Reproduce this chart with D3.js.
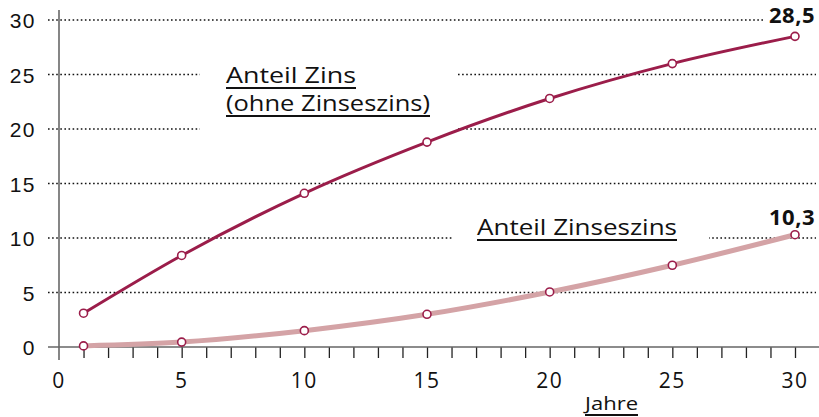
<!DOCTYPE html>
<html>
<head>
<meta charset="utf-8">
<script src="https://cdn.jsdelivr.net/npm/d3@7"></script>
<style>
  body { margin: 0; background: #fff; }
  svg { display: block; font-family: "Open Sans", sans-serif; }
</style>
</head>
<body>
<div id="chart"></div>
<script>
// years shown with markers
var years = [1, 5, 10, 15, 20, 25, 30];
// share of simple interest (Anteil Zins)
var zinsValues = [3.1, 8.4, 14.1, 18.8, 22.8, 26.0, 28.5];
// share of compound interest (Anteil Zinseszins)
var zinseszinsValues = [0.1, 0.45, 1.5, 3.0, 5.05, 7.5, 10.3];
var yTicks = [0, 5, 10, 15, 20, 25, 30];
var xTicks = [0, 5, 10, 15, 20, 25, 30];

var width = 819, height = 417;

var svg = d3.select("#chart")
    .append("svg")
    .attr("width", width)
    .attr("height", height);

var x = d3.scaleLinear().domain([0, 30]).range([59, 795]);
var y = d3.scaleLinear().domain([0, 30]).range([347, 20]);

// dotted gridlines
svg.append("g")
    .selectAll("line")
    .data(yTicks.filter(function (d) { return d > 0; }))
    .enter()
    .append("line")
    .attr("x1", 48)
    .attr("x2", 816)
    .attr("y1", function (d) { return y(d); })
    .attr("y2", function (d) { return y(d); })
    .attr("stroke", "#111")
    .attr("stroke-width", 1.6)
    .attr("stroke-dasharray", "1.6 2.5");

// white boxes behind the labels, they cut the gridlines
svg.append("rect").attr("x", 200).attr("y", 52).attr("width", 257).attr("height", 88).attr("fill", "#fff");
svg.append("rect").attr("x", 453).attr("y", 212).attr("width", 256).attr("height", 36).attr("fill", "#fff");
svg.append("rect").attr("x", 764).attr("y", 8).attr("width", 55).attr("height", 22).attr("fill", "#fff");

// y axis
var yAxis = svg.append("g")
    .attr("transform", "translate(59,0)")
    .call(d3.axisLeft(y).tickValues(yTicks).tickSize(0).tickPadding(23));
yAxis.select(".domain").remove();
yAxis.selectAll("text")
    .style("font-size", "21px")
    .style("letter-spacing", "1.5px")
    .attr("fill", "#111")
    .attr("dy", "0.36em");
svg.append("line")
    .attr("x1", 59).attr("x2", 59)
    .attr("y1", 10).attr("y2", 360)
    .attr("stroke", "#444").attr("stroke-width", 1.3);

// x axis
var xAxis = svg.append("g")
    .attr("transform", "translate(0,347)")
    .call(d3.axisBottom(x).tickValues(d3.range(1, 31)).tickSize(11).tickFormat(""));
xAxis.select(".domain").remove();
xAxis.selectAll("line").attr("stroke", "#222").attr("stroke-width", 1.3);
svg.append("line")
    .attr("x1", 48).attr("x2", 819)
    .attr("y1", 347).attr("y2", 347)
    .attr("stroke", "#666").attr("stroke-width", 1.5);

svg.append("g")
    .selectAll("text")
    .data(xTicks)
    .enter()
    .append("text")
    .attr("x", function (d) { return x(d); })
    .attr("y", 388)
    .attr("text-anchor", "middle")
    .style("font-size", "21px")
    .style("letter-spacing", "1.5px")
    .attr("fill", "#111")
    .text(function (d) { return d; });

// lines
var zinsData = years.map(function (d, i) { return { year: d, value: zinsValues[i] }; });
var zzData = years.map(function (d, i) { return { year: d, value: zinseszinsValues[i] }; });

var line = d3.line()
    .x(function (d) { return x(d.year); })
    .y(function (d) { return y(d.value); })
    .curve(d3.curveMonotoneX);

svg.append("path")
    .datum(zzData)
    .attr("d", line)
    .attr("fill", "none")
    .attr("stroke", "#d4a3a6")
    .attr("stroke-width", 5);

svg.append("path")
    .datum(zinsData)
    .attr("d", line)
    .attr("fill", "none")
    .attr("stroke", "#9b1d4a")
    .attr("stroke-width", 3);

[zinsData, zzData].forEach(function (series) {
    svg.append("g")
        .selectAll("circle")
        .data(series)
        .enter()
        .append("circle")
        .attr("cx", function (d) { return x(d.year); })
        .attr("cy", function (d) { return y(d.value); })
        .attr("r", 4)
        .attr("fill", "#fff")
        .attr("stroke", "#9b1d4a")
        .attr("stroke-width", 1.6);
});

// underlined labels
function underlined(txt, x0, y0, size, widthTarget) {
    var t = svg.append("text")
        .attr("x", x0)
        .attr("y", y0)
        .style("font-size", size + "px")
        .style("font-weight", 500)
        .attr("fill", "#111")
        .text(txt);
    if (widthTarget) {
        t.attr("textLength", widthTarget).attr("lengthAdjust", "spacingAndGlyphs");
    }
    var w = widthTarget || t.node().getComputedTextLength();
    svg.append("line")
        .attr("x1", x0).attr("x2", x0 + w)
        .attr("y1", y0 + 5).attr("y2", y0 + 5)
        .attr("stroke", "#111").attr("stroke-width", 2);
}

underlined("Anteil Zins", 226, 83, 22, 130);
underlined("(ohne Zinseszins)", 226, 111, 22, 204);
underlined("Anteil Zinseszins", 477, 235, 22, 200);
underlined("Jahre", 585, 410, 18, 53);

// end values
svg.append("text")
    .attr("x", 815).attr("y", 23)
    .attr("text-anchor", "end")
    .style("font-size", "22px")
    .style("font-weight", "bold")
    .style("letter-spacing", "0.5px")
    .attr("fill", "#111")
    .text("28,5");
svg.append("text")
    .attr("x", 815).attr("y", 225)
    .attr("text-anchor", "end")
    .style("font-size", "22px")
    .style("font-weight", "bold")
    .style("letter-spacing", "0.5px")
    .attr("fill", "#111")
    .text("10,3");
</script>
</body>
</html>
